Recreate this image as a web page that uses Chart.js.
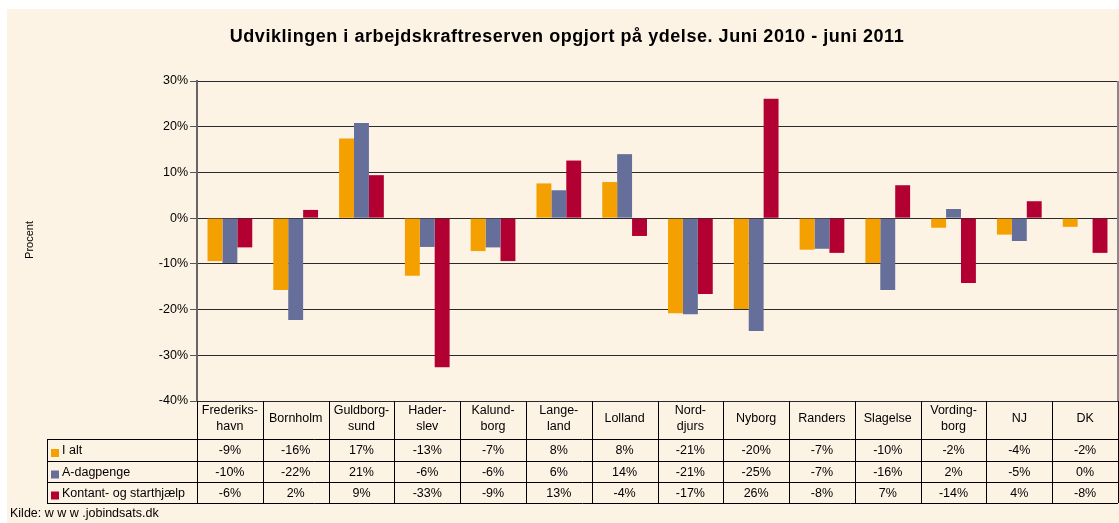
<!DOCTYPE html>
<html>
<head>
<meta charset="utf-8">
<script src="https://cdn.jsdelivr.net/npm/chart.js@4.4.1/dist/chart.umd.min.js"></script>
<style>
  html, body { margin: 0; padding: 0; background: #fff; }
  #wrap { width: 1119px; height: 523px; }
</style>
</head>
<body>
<div id="wrap"><canvas id="chart" width="1119" height="523"></canvas></div>
<script>
// categories as they appear in the table header (\n = line break)
const categories = [
    'Frederiks-\nhavn', 'Bornholm', 'Guldborg-\nsund', 'Hader-\nslev', 'Kalund-\nborg',
    'Lange-\nland', 'Lolland', 'Nord-\ndjurs', 'Nyborg', 'Randers', 'Slagelse',
    'Vording-\nborg', 'NJ', 'DK'
];

// percent change, June 2010 - June 2011
const iAlt = [-9.4, -15.7, 17.4, -12.6, -7.2, 7.6, 7.9, -20.8, -19.9, -6.9, -9.8, -2.1, -3.6, -1.9];
const aDagpenge = [-9.8, -22.3, 20.8, -6.3, -6.4, 6.1, 14.0, -21.0, -24.7, -6.7, -15.7, 2.0, -5.0, 0];
const kontant = [-6.4, 1.8, 9.4, -32.6, -9.4, 12.6, -3.9, -16.6, 26.1, -7.6, 7.2, -14.2, 3.7, -7.6];

const yTicks = [-40, -30, -20, -10, 0, 10, 20, 30];

const FONT = '"Liberation Sans", Arial, sans-serif';
const BG = '#FDF3E5';

const seriesList = [
    {label: 'I alt', data: iAlt, color: '#F4A000'},
    {label: 'A-dagpenge', data: aDagpenge, color: '#666E9A'},
    {label: 'Kontant- og starthjælp', data: kontant, color: '#B30033'},
];

const fmt = v => Math.round(v) + '%';

// background, title, axis title, table and source line
const decorations = {
    id: 'decorations',
    beforeDraw(chart) {
        const ctx = chart.ctx;
        ctx.save();
        ctx.fillStyle = BG;
        ctx.fillRect(7, 9, chart.width - 7, chart.height - 9);
        ctx.restore();
    },
    afterDraw(chart) {
        const ctx = chart.ctx;
        const area = chart.chartArea;
        const x = chart.scales.x;
        const colW = (area.right - area.left) / categories.length;

        ctx.save();
        // title
        ctx.fillStyle = '#000';
        ctx.font = 'bold 18px ' + FONT;
        ctx.letterSpacing = '0.55px';
        ctx.textAlign = 'center';
        ctx.textBaseline = 'alphabetic';
        ctx.fillText('Udviklingen i arbejdskraftreserven opgjort på ydelse. Juni 2010 - juni 2011', 567, 42);
        ctx.letterSpacing = '0px';
        ctx.textBaseline = 'middle';

        // y axis title
        ctx.save();
        ctx.translate(30, 240);
        ctx.rotate(-Math.PI / 2);
        ctx.font = '11px ' + FONT;
        ctx.fillText('Procent', 0, 0);
        ctx.restore();

        // right border of plot area
        ctx.strokeStyle = '#888';
        ctx.lineWidth = 2;
        ctx.beginPath();
        ctx.moveTo(area.right, area.top);
        ctx.lineTo(area.right, area.bottom);
        ctx.stroke();

        // data table
        const top = area.bottom;
        const rowY = [439, 461, 482, 503];
        const legendLeft = 47;
        ctx.strokeStyle = '#000';
        ctx.lineWidth = 1;
        ctx.beginPath();
        for (let i = 0; i <= categories.length; i++) {
            const px = Math.round(area.left + i * colW) + 0.5;
            ctx.moveTo(px, top);
            ctx.lineTo(px, rowY[3]);
        }
        rowY.forEach(y => {
            ctx.moveTo(legendLeft, y + 0.5);
            ctx.lineTo(area.right, y + 0.5);
        });
        ctx.moveTo(legendLeft + 0.5, rowY[0]);
        ctx.lineTo(legendLeft + 0.5, rowY[3]);
        ctx.stroke();

        ctx.font = '12.5px ' + FONT;
        ctx.fillStyle = '#000';
        ctx.textAlign = 'center';
        categories.forEach((c, i) => {
            const cx = x.getPixelForValue(i);
            const lines = c.split('\n');
            if (lines.length === 2) {
                ctx.fillText(lines[0], cx, 411);
                ctx.fillText(lines[1], cx, 427);
            } else {
                ctx.fillText(lines[0], cx, 419);
            }
        });

        seriesList.forEach((s, r) => {
            const cy = (rowY[r] + rowY[r + 1]) / 2 + 1;
            ctx.textAlign = 'center';
            s.data.forEach((v, i) => {
                ctx.fillText(fmt(v), x.getPixelForValue(i), cy);
            });
            ctx.fillStyle = s.color;
            ctx.fillRect(51, cy - 2, 8, 8);
            ctx.fillStyle = '#000';
            ctx.textAlign = 'left';
            ctx.fillText(s.label, 62, cy);
        });

        // source
        ctx.font = '12.5px ' + FONT;
        ctx.textAlign = 'left';
        ctx.fillText('Kilde: w w w .jobindsats.dk', 10, 514);
        ctx.restore();
    }
};

new Chart(document.getElementById('chart'), {
    type: 'bar',
    data: {
        labels: categories,
        datasets: seriesList.map(s => ({
            label: s.label,
            data: s.data,
            backgroundColor: s.color,
            borderWidth: 0,
            categoryPercentage: 0.68,
            barPercentage: 1.0,
        })),
    },
    options: {
        responsive: false,
        animation: false,
        devicePixelRatio: 1,
        layout: {padding: {left: 0, right: 1, top: 81, bottom: 122}},
        plugins: {
            legend: {display: false},
            tooltip: {enabled: false},
        },
        scales: {
            x: {
                display: false,
            },
            y: {
                min: yTicks[0],
                max: yTicks[yTicks.length - 1],
                afterFit: s => { s.width = 197; },
                afterBuildTicks: s => { s.ticks = yTicks.map(v => ({value: v})); },
                ticks: {
                    callback: v => v + '%',
                    color: '#000',
                    padding: 2,
                    font: {family: FONT, size: 12.5},
                },
                grid: {
                    color: '#2a2a2a',
                    lineWidth: 1,
                    tickLength: 7,
                    tickColor: '#555',
                },
                border: {color: '#666', width: 2},
            },
        },
    },
    plugins: [decorations],
});
</script>
</body>
</html>
